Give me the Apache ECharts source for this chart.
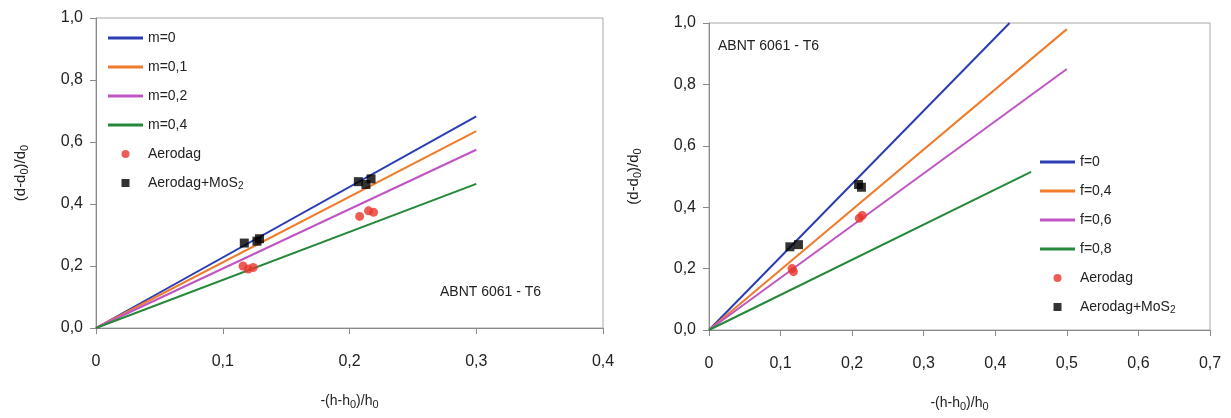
<!DOCTYPE html>
<html>
<head>
<meta charset="utf-8">
<script src="https://cdn.jsdelivr.net/npm/echarts@6/dist/echarts.min.js"></script>
<style>
html,body{margin:0;padding:0;background:#fff;}
#c{width:1231px;height:418px;}
</style>
</head>
<body>
<div id="c"></div>
<script>
// ---- data ----
const xTicksLeft = [0, 0.1, 0.2, 0.3, 0.4];
const xTicksRight = [0, 0.1, 0.2, 0.3, 0.4, 0.5, 0.6, 0.7];
const yTicks = [0, 0.2, 0.4, 0.6, 0.8, 1.0];

const mNames = ['m=0', 'm=0,1', 'm=0,2', 'm=0,4'];
const mEndX = [0.3, 0.3, 0.3, 0.3];
const mEndY = [0.683, 0.635, 0.575, 0.465];

const fNames = ['f=0', 'f=0,4', 'f=0,6', 'f=0,8'];
const fEndX = [0.42, 0.5, 0.5, 0.45];
const fEndY = [1.0, 0.98, 0.85, 0.515];

const leftAerodag = [[0.116, 0.200], [0.120, 0.190], [0.124, 0.195], [0.208, 0.360], [0.215, 0.378], [0.219, 0.373]];
const leftMoS2 = [[0.117, 0.274], [0.127, 0.280], [0.129, 0.288], [0.207, 0.472], [0.213, 0.463], [0.217, 0.481]];
const rightAerodag = [[0.116, 0.200], [0.118, 0.190], [0.210, 0.364], [0.214, 0.373]];
const rightMoS2 = [[0.113, 0.271], [0.125, 0.278], [0.209, 0.474], [0.213, 0.465]];

const lineColors = ['#2b3db3', '#f07b2b', '#c054c4', '#25883a'];
const redColor = '#e8352b';
const blackColor = '#000000';

// ---- chart ----
const chart = echarts.init(document.getElementById('c'), null, {renderer: 'canvas'});
const FONT = 'Liberation Sans, Arial, sans-serif';
const axisGray = '#8a8a8a';
const textCol = '#222222';
const subRich = {s: {fontSize: 11, fontFamily: FONT, color: textCol, padding: [7, 0, 0, 0]}};

function fmtX(v) { return v === 0 ? '0' : v.toFixed(1).replace('.', ','); }
function fmtY(v) { return v.toFixed(1).replace('.', ','); }

function xAxis(gi, max) {
  return {
    type: 'value', gridIndex: gi, min: 0, max: max, interval: 0.1,
    axisLine: {show: true, lineStyle: {color: axisGray, width: 1}},
    axisTick: {show: true, length: 6, lineStyle: {color: axisGray}},
    splitLine: {show: false},
    axisLabel: {formatter: fmtX, color: textCol, fontSize: 16, fontFamily: FONT, margin: 26},
    name: '-(h-h{s|0})/h{s|0}', nameLocation: 'middle', nameGap: 64,
    nameTextStyle: {color: textCol, fontSize: 14, fontFamily: FONT, rich: subRich}
  };
}
function yAxis(gi) {
  return {
    type: 'value', gridIndex: gi, min: 0, max: 1, interval: 0.2,
    axisLine: {show: true, lineStyle: {color: axisGray, width: 1}},
    axisTick: {show: true, length: 6, lineStyle: {color: axisGray}},
    splitLine: {show: false},
    axisLabel: {formatter: fmtY, color: textCol, fontSize: 16, fontFamily: FONT, margin: 13},
    name: '(d-d{s|0})/d{s|0}', nameLocation: 'middle', nameGap: 66, nameRotate: 90,
    nameTextStyle: {color: textCol, fontSize: 15, fontFamily: FONT, rich: subRich}
  };
}

const series = [];
mNames.forEach((n, i) => {
  series.push({name: n, type: 'line', xAxisIndex: 0, yAxisIndex: 0, showSymbol: false, symbol: 'none',
    data: [[0, 0], [mEndX[i], mEndY[i]]], lineStyle: {color: lineColors[i], width: 2}, itemStyle: {color: lineColors[i]},
    silent: true, z: 2});
});
fNames.forEach((n, i) => {
  series.push({name: n, type: 'line', xAxisIndex: 1, yAxisIndex: 1, showSymbol: false, symbol: 'none',
    data: [[0, 0], [fEndX[i], fEndY[i]]], lineStyle: {color: lineColors[i], width: 2}, itemStyle: {color: lineColors[i]},
    silent: true, z: 2});
});
series.push({name: 'Aerodag', type: 'scatter', xAxisIndex: 0, yAxisIndex: 0, symbol: 'circle', symbolSize: 9,
  data: leftAerodag, itemStyle: {color: redColor}, z: 3});
series.push({name: 'Aerodag+MoS2', type: 'scatter', xAxisIndex: 0, yAxisIndex: 0, symbol: 'rect', symbolSize: 9,
  data: leftMoS2, itemStyle: {color: blackColor}, z: 3});
series.push({name: 'Aerodag', type: 'scatter', xAxisIndex: 1, yAxisIndex: 1, symbol: 'circle', symbolSize: 9,
  data: rightAerodag, itemStyle: {color: redColor}, z: 3});
series.push({name: 'Aerodag+MoS2', type: 'scatter', xAxisIndex: 1, yAxisIndex: 1, symbol: 'rect', symbolSize: 9,
  data: rightMoS2, itemStyle: {color: blackColor}, z: 3});

const lineIcon = 'path://M0,0h35v3h-35z';
const squareIcon = 'path://M0,0h10v10h-10z';
function legendData(names) {
  const d = names.map(n => ({name: n, icon: lineIcon}));
  d.push({name: 'Aerodag', icon: 'circle'});
  d.push({name: 'Aerodag+MoS2', icon: squareIcon});
  return d;
}
const legendText = {
  color: textCol, fontSize: 14, fontFamily: FONT,
  rich: {s: {fontSize: 10, fontFamily: FONT, color: textCol, padding: [6, 0, 0, 0]}, t: {fontSize: 14, fontFamily: FONT, color: textCol}}
};
function legendFmt(n) { return n === 'Aerodag+MoS2' ? '{t|Aerodag+MoS}{s|2}' : n; }

const option = {
  backgroundColor: '#ffffff',
  animation: false,
  grid: [
    {left: 96, top: 18, width: 507, height: 310, show: true, borderColor: '#a8a8a8', borderWidth: 1, backgroundColor: 'transparent'},
    {left: 709, top: 23, width: 501, height: 307, show: true, borderColor: '#a8a8a8', borderWidth: 1, backgroundColor: 'transparent'}
  ],
  xAxis: [xAxis(0, 0.4), xAxis(1, 0.7)],
  yAxis: [yAxis(0), yAxis(1)],
  legend: [
    {orient: 'vertical', left: 108, top: 31, itemWidth: 35, itemHeight: 8, itemGap: 15,
      data: legendData(mNames), textStyle: legendText, formatter: legendFmt, selectedMode: false, padding: 0},
    {orient: 'vertical', left: 1040, top: 155, itemWidth: 35, itemHeight: 8, itemGap: 15,
      data: legendData(fNames), textStyle: legendText, formatter: legendFmt, selectedMode: false, padding: 0}
  ],
  title: [
    {text: 'ABNT 6061 - T6', left: 440, top: 285, padding: 0,
      textStyle: {color: textCol, fontSize: 14, fontWeight: 'normal', fontFamily: FONT}},
    {text: 'ABNT 6061 - T6', left: 718, top: 39, padding: 0,
      textStyle: {color: textCol, fontSize: 14, fontWeight: 'normal', fontFamily: FONT}}
  ],
  series: series
};
chart.setOption(option);
</script>
</body>
</html>
